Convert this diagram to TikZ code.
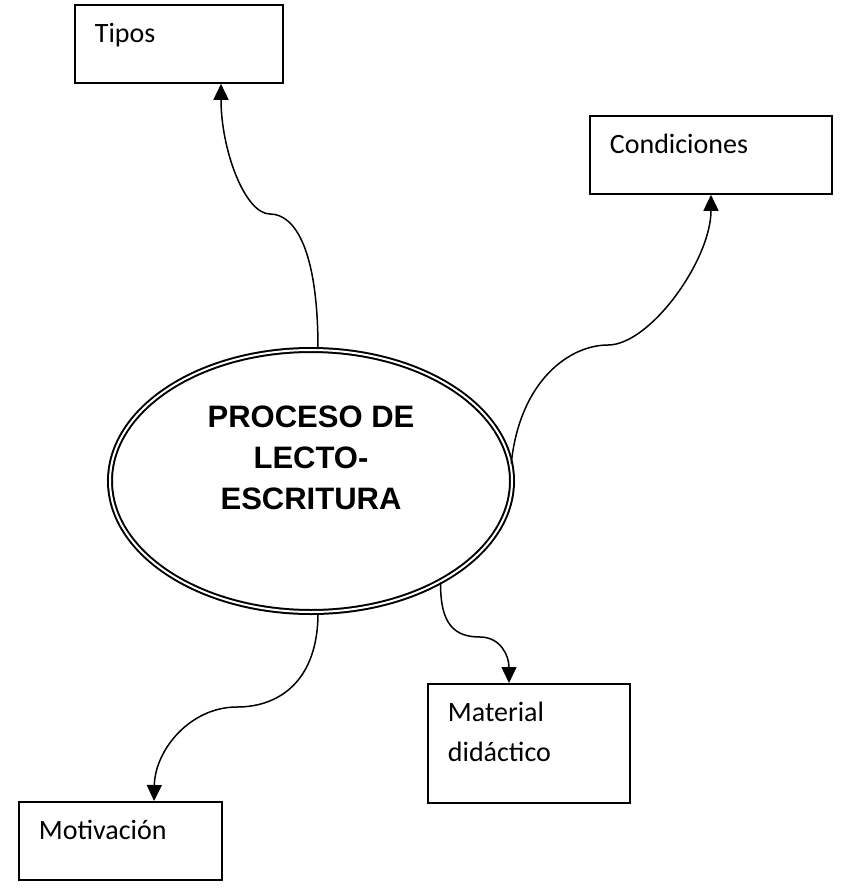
\documentclass[tikz,border=0pt]{standalone}
\usepackage{fontspec}
\setmainfont{Carlito}
\newfontfamily\titlefont{Liberation Sans}
\usetikzlibrary{arrows.meta,shapes.geometric}
\tikzset{
  boxnode/.style={draw, line width=1.8pt, rectangle, anchor=north west, align=left,
    inner xsep=20pt, inner ysep=0pt, text height=38pt,
    font=\fontsize{28}{40}\selectfont},
  conn/.style={line width=1.5pt, -{Triangle[length=16pt,width=15pt]}},
  mainell/.style={ellipse, draw, double, line width=2pt, double distance=2pt,
    minimum width=402pt, minimum height=262pt, inner sep=0pt},
  titletext/.style={align=center, font=\titlefont\bfseries\fontsize{31}{41}\selectfont}
}
\begin{document}
\begin{tikzpicture}[x=1pt,y=-1pt]
\useasboundingbox (0,0) rectangle (843,889);
% boxes
\node[boxnode, text width=168pt, text depth=40pt] (T) at (74,4) {Tipos};
\node[boxnode, text width=202pt, text depth=40pt] (C) at (589,115) {Condiciones};
\node[boxnode, text width=162pt, text depth=81pt] (M) at (427,683) {Material\\did\'actico};
\node[boxnode, text width=163pt, text depth=40pt] (Mo) at (18,801) {Motivaci\'on};
% central ellipse
\node[mainell] (E) at (311,481) {};
\node[titletext] (title) at (311,458) {PROCESO DE\\LECTO-\\ESCRITURA};
% connectors
\draw[conn] (E.north -| 318,0) .. controls (318,250) and (295,214) .. (270,214)
  .. controls (245,214) and (221,150) .. (T.south -| 221,0);
\draw[conn] (E.5) .. controls (520,380) and (570,345) .. (608,345)
  .. controls (650,345) and (711,260) .. (C.south -| 711,0);
\draw[conn] (E.-38) .. controls (440,625) and (455,637) .. (480,637)
  .. controls (500,637) and (509,655) .. (M.north -| 509,0);
\draw[conn] (E.south -| 318,0) .. controls (318,680) and (280,707) .. (237,707)
  .. controls (190,707) and (155,750) .. (Mo.north -| 154,0);
\end{tikzpicture}
\end{document}
